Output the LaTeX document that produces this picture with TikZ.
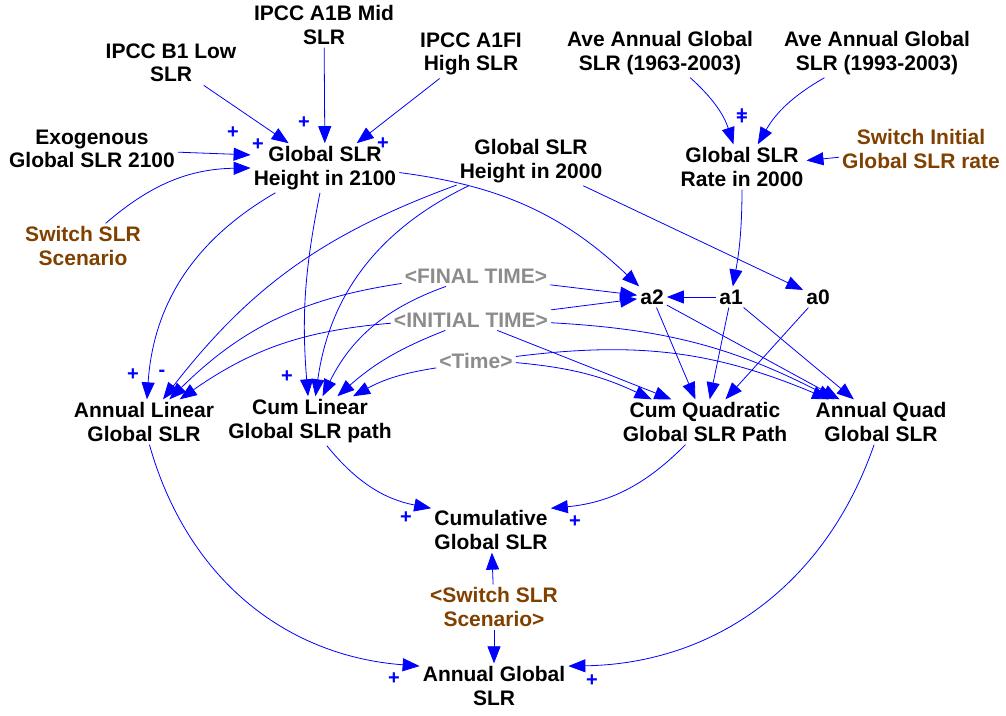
\documentclass[tikz,border=0pt]{standalone}
\usepackage{fontspec}
\setmainfont{Liberation Sans}
\usetikzlibrary{arrows.meta}
\definecolor{slrblue}{RGB}{0,0,255}
\definecolor{slrbrown}{RGB}{128,64,0}
\definecolor{slrgray}{RGB}{140,140,140}

\begin{document}
\begin{tikzpicture}[x=1pt,y=1pt,
  var/.style={align=center, font=\bfseries\fontsize{21}{23.5}\selectfont, inner sep=3pt},
  swv/.style={var, text=slrbrown},
  shd/.style={var, text=slrgray},
  lnk/.style={draw=slrblue, line width=0.8pt, -{Triangle[length=17pt,width=13pt]}},
  pol/.style={text=slrblue, font=\bfseries\fontsize{20}{20}\selectfont, inner sep=0pt}]
\useasboundingbox (0,0) rectangle (1006,715);
\node[var] (b1) at (171,652){IPCC B1 Low\\SLR};
\node[var] (a1b) at (324,690){IPCC A1B Mid\\SLR};
\node[var] (a1fi) at (471,661){IPCC A1FI\\High SLR};
\node[var] (exo) at (92,566){Exogenous\\Global SLR 2100};
\node[var] (h2100) at (325,547){Global SLR\\Height in 2100};
\node[swv] (sw) at (83,469){Switch SLR\\Scenario};
\node[var] (h2000) at (531,554){Global SLR\\Height in 2000};
\node[var] (ave63) at (660,662){Ave Annual Global\\SLR (1963-2003)};
\node[var] (ave93) at (877,662){Ave Annual Global\\SLR (1993-2003)};
\node[var] (r2000) at (742,548){Global SLR\\Rate in 2000};
\node[swv] (swr) at (921,566){Switch Initial\\Global SLR rate};
\node[shd] (ft) at (476,439){<FINAL TIME>};
\node[shd] (it) at (471,395){<INITIAL TIME>};
\node[shd] (tm) at (476,354){<Time>};
\node[var] (a2) at (652,418){a2};
\node[var] (a1) at (731,418){a1};
\node[var] (a0) at (818,418){a0};
\node[var] (lin) at (144,293){Annual Linear\\Global SLR};
\node[var] (clin) at (310,294){Cum Linear\\Global SLR path};
\node[var] (cq) at (705,293){Cum Quadratic\\Global SLR Path};
\node[var] (aq) at (881,293){Annual Quad\\Global SLR};
\node[var] (cum) at (491,185){Cumulative\\Global SLR};
\node[swv] (sws) at (494,108){<Switch SLR\\Scenario>};
\node[var] (agl) at (494,29){Annual Global\\SLR};
\draw[lnk] (b1) -- (h2100);
\draw[lnk] (a1b) -- (h2100);
\draw[lnk] (a1fi) -- (h2100);
\draw[lnk] (exo) -- (h2100.170);
\draw[lnk] (sw) to[bend left=20] (h2100.west);
\draw[lnk] (h2100) to[bend right=28] (lin);
\draw[lnk] (h2100) to[bend right=8] (clin);
\draw[lnk] (h2100) to[bend left=18] (a2);
\draw[lnk] (h2000) to[bend right=16] (lin);
\draw[lnk] (h2000) to[bend right=28] (clin);
\draw[lnk] (h2000) -- (a0);
\draw[lnk] (ft) to[bend right=18] (lin);
\draw[lnk] (ft) to[bend right=22] (clin);
\draw[lnk] (ft) -- (a2);
\draw[lnk] (it) to[bend right=15] (lin);
\draw[lnk] (it) to[bend right=10] (clin);
\draw[lnk] (it) -- (a2);
\draw[lnk] (it) -- (cq.146);
\draw[lnk] (it) to[bend left=12] (aq);
\draw[lnk] (tm) to[bend right=10] (clin);
\draw[lnk] (tm) to[bend left=10] (cq.157);
\draw[lnk] (tm) to[bend left=15] (aq);
\draw[lnk] (ave63) to[bend left=15] (r2000);
\draw[lnk] (ave93) to[bend right=15] (r2000);
\draw[lnk] (swr) -- (r2000);
\draw[lnk] (r2000) to[bend left=5] (a1);
\draw[lnk] (a1) -- (a2);
\draw[lnk] (a2) -- (cq);
\draw[lnk] (a2) -- (aq);
\draw[lnk] (a1) -- (cq);
\draw[lnk] (a1) -- (aq);
\draw[lnk] (a0) -- (cq);
\draw[lnk] (lin) to[bend right=35] (agl.165);
\draw[lnk] (clin) to[bend right=20] (cum.160);
\draw[lnk] (cq) to[bend left=20] (cum.20);
\draw[lnk] (aq) to[bend left=35] (agl.15);
\draw[lnk] (sws) -- (cum);
\draw[lnk] (sws) -- (agl);
\node[pol] (p1) at (233,582){+};
\node[pol] (p2) at (258,570){+};
\node[pol] (p3) at (304,592){+};
\node[pol] (p4) at (383,571){+};
\node[pol] (p5) at (742,600){+};
\node[pol] (p6) at (742,596){+};
\node[pol] (p7) at (133,340){+};
\node[pol] (p8) at (162,342){-};
\node[pol] (p9) at (287,338){+};
\node[pol] (p10) at (406,197){+};
\node[pol] (p11) at (575,193){+};
\node[pol] (p12) at (394,36){+};
\node[pol] (p13) at (592,34){+};
\end{tikzpicture}
\end{document}
